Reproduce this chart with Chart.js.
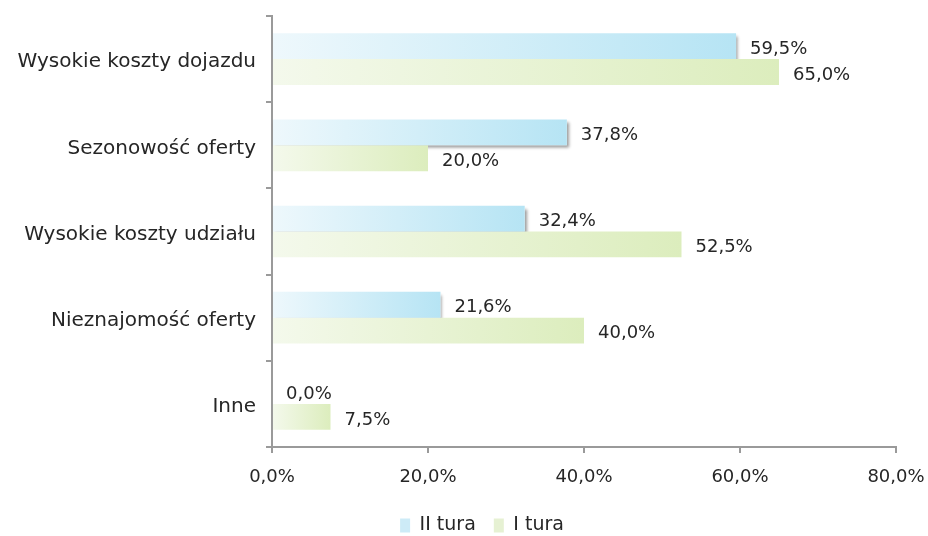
<!DOCTYPE html>
<html>
<head>
<meta charset="utf-8">
<script src="https://cdn.jsdelivr.net/npm/chart.js@4"></script>
<style>
  html, body { margin: 0; padding: 0; background: #fff; }
  #wrap { width: 928px; height: 536px; }
</style>
</head>
<body>
<div id="wrap"><canvas id="chart" width="928" height="536"></canvas></div>
<script>
const categories = ['Wysokie koszty dojazdu', 'Sezonowość oferty', 'Wysokie koszty udziału', 'Nieznajomość oferty', 'Inne'];
const turaII = [59.5, 37.8, 32.4, 21.6, 0.0];
const turaI = [65.0, 20.0, 52.5, 40.0, 7.5];
const seriesNames = ['II tura', 'I tura'];
const xTicks = [0, 20, 40, 60, 80];

const FONT = 'DejaVu Sans';
const TEXT = '#262626';
const AXIS = '#9a9a9a';

const blueFrom = '#eef8fc', blueTo = '#b6e4f4';
const greenFrom = '#f4f9ec', greenTo = '#dcedbd';

function fmt(v) {
    return v.toFixed(1).replace('.', ',') + '%';
}

function barGradient(from, to) {
    return function (ctx) {
        const chart = ctx.chart;
        if (ctx.type !== 'data' || !chart.chartArea) return to;
        const x = chart.scales.x;
        const x0 = x.getPixelForValue(0);
        const x1 = x.getPixelForValue(ctx.raw);
        if (x1 - x0 < 1) return to;
        const g = chart.ctx.createLinearGradient(x0, 0, x1, 0);
        g.addColorStop(0, from);
        g.addColorStop(1, to);
        return g;
    };
}

// soft shadow under the blue bars, drawn before the bars themselves
const shadowPlugin = {
    id: 'shadow',
    beforeDatasetsDraw(chart) {
        const ctx = chart.ctx;
        const meta = chart.getDatasetMeta(0);
        ctx.save();
        ctx.shadowColor = 'rgba(0,0,0,0.4)';
        ctx.shadowOffsetX = 2;
        ctx.shadowOffsetY = 3;
        ctx.shadowBlur = 3;
        ctx.fillStyle = '#ffffff';
        meta.data.forEach(bar => {
            const w = bar.x - bar.base;
            if (w < 1) return;
            ctx.fillRect(bar.base, bar.y - bar.height / 2, w, bar.height);
        });
        ctx.restore();
    }
};

const valueLabels = {
    id: 'valueLabels',
    afterDatasetsDraw(chart) {
        const ctx = chart.ctx;
        ctx.save();
        ctx.font = '18px "' + FONT + '"';
        ctx.fillStyle = TEXT;
        ctx.textAlign = 'left';
        ctx.textBaseline = 'middle';
        chart.data.datasets.forEach((ds, i) => {
            const meta = chart.getDatasetMeta(i);
            meta.data.forEach((bar, j) => {
                ctx.fillText(fmt(ds.data[j]), bar.x + 14, bar.y + 3);
            });
        });
        ctx.restore();
    }
};

// nudge the legend a bit right, as in the original
const legendShift = {
    id: 'legendShift',
    afterLayout(chart) {
        chart.legend.left += 34;
        chart.legend.right += 34;
    }
};

new Chart(document.getElementById('chart'), {
    type: 'bar',
    data: {
        labels: categories,
        datasets: [
            { label: seriesNames[0], data: turaII, backgroundColor: barGradient(blueFrom, blueTo), categoryPercentage: 0.6, barPercentage: 1.0 },
            { label: seriesNames[1], data: turaI, backgroundColor: barGradient(greenFrom, greenTo), categoryPercentage: 0.6, barPercentage: 1.0 }
        ]
    },
    options: {
        indexAxis: 'y',
        responsive: false,
        animation: false,
        layout: { padding: { top: 16, right: 32, left: 0, bottom: -9 } },
        scales: {
            x: {
                min: 0,
                max: 80,
                afterBuildTicks(scale) {
                    scale.ticks = xTicks.map(v => ({ value: v }));
                },
                afterFit(scale) {
                    scale.height = 51;
                    scale.paddingLeft = 0;
                    scale.paddingRight = 0;
                },
                ticks: {
                    callback: v => fmt(v),
                    color: TEXT,
                    font: { family: FONT, size: 18 },
                    padding: 14,
                    maxRotation: 0
                },
                grid: { drawOnChartArea: false, tickLength: 6, color: AXIS, lineWidth: 2 },
                border: { color: AXIS, width: 2 }
            },
            y: {
                afterFit(scale) {
                    scale.width = 272;
                    scale.paddingTop = 0;
                    scale.paddingBottom = 0;
                },
                ticks: {
                    color: TEXT,
                    font: { family: FONT, size: 20 },
                    padding: 10,
                    labelOffset: 3
                },
                grid: { drawOnChartArea: false, offset: true, tickLength: 6, color: AXIS, lineWidth: 2 },
                border: { color: AXIS, width: 2 }
            }
        },
        plugins: {
            tooltip: { enabled: false },
            legend: {
                position: 'bottom',
                labels: {
                    font: { family: FONT, size: 19 },
                    color: TEXT,
                    boxWidth: 10,
                    boxHeight: 14,
                    padding: 18,
                    generateLabels() {
                        return [
                            { text: seriesNames[0], fillStyle: '#cdebf7', strokeStyle: '#cdebf7', lineWidth: 0, datasetIndex: 0, fontColor: TEXT },
                            { text: seriesNames[1], fillStyle: '#e6f1d3', strokeStyle: '#e6f1d3', lineWidth: 0, datasetIndex: 1, fontColor: TEXT }
                        ];
                    }
                }
            }
        }
    },
    plugins: [shadowPlugin, valueLabels, legendShift]
});
</script>
</body>
</html>
